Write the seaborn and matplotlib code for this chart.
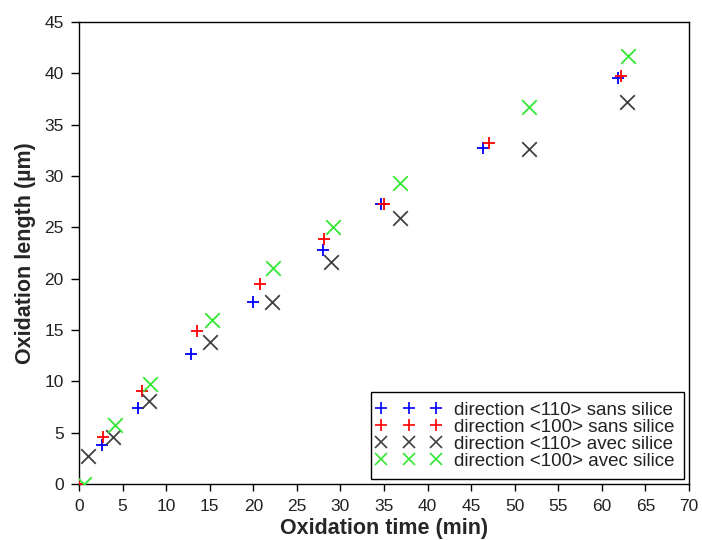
import pandas as pd
import seaborn as sns
import matplotlib
matplotlib.use("Agg")
import matplotlib.pyplot as plt
from matplotlib.lines import Line2D
from matplotlib.legend_handler import HandlerLine2D

# --- data ---
series_names = [
    "direction <110> sans silice",
    "direction <100> sans silice",
    "direction <110> avec silice",
    "direction <100> avec silice",
]

t_110_sans = [0.0, 2.6, 6.8, 12.9, 20.0, 28.0, 34.7, 46.4, 61.9]
l_110_sans = [0.0, 3.8, 7.4, 12.7, 17.7, 22.8, 27.3, 32.7, 39.5]

t_100_sans = [0.0, 2.8, 7.2, 13.5, 20.8, 28.1, 35.0, 47.1, 62.2]
l_100_sans = [0.0, 4.6, 9.1, 14.9, 19.5, 23.9, 27.3, 33.2, 39.7]

t_110_avec = [1.0, 3.9, 8.0, 15.0, 22.2, 28.9, 36.8, 51.6, 62.9]
l_110_avec = [2.7, 4.6, 8.1, 13.8, 17.7, 21.6, 25.9, 32.6, 37.2]

t_100_avec = [0.6, 4.1, 8.2, 15.3, 22.3, 29.1, 36.8, 51.6, 63.0]
l_100_avec = [0.0, 5.7, 9.7, 16.0, 21.0, 25.0, 29.3, 36.7, 41.7]

colors = ["#0000ff", "#ff0000", "#404040", "#33e833"]
markers = ["+", "+", "x", "x"]
sizes = [80, 80, 110, 110]


def main():
    frames = []
    for name, t, l in zip(series_names,
                          [t_110_sans, t_100_sans, t_110_avec, t_100_avec],
                          [l_110_sans, l_100_sans, l_110_avec, l_100_avec]):
        frames.append(pd.DataFrame({"time": t, "length": l, "series": name}))
    df = pd.concat(frames, ignore_index=True)

    sns.set_theme(style="ticks")
    plt.rcParams["font.family"] = ["Liberation Sans", "DejaVu Sans"]

    fig = plt.figure(figsize=(7.02, 5.4), dpi=100)
    ax = fig.add_axes([0.1125, 0.1037, 0.869, 0.8556])

    for name, c, m, s in zip(series_names, colors, markers, sizes):
        sns.scatterplot(data=df[df["series"] == name], x="time", y="length",
                        color=c, marker=m, s=s, linewidth=1.3, ax=ax,
                        legend=False, zorder=3)

    ax.set_xlim(0, 70)
    ax.set_ylim(0, 45)
    ax.set_xticks(range(0, 71, 5))
    ax.set_yticks(range(0, 46, 5))
    ax.tick_params(direction="out", width=1, labelsize=12.5, colors="black",
                   labelcolor="#222222", top=False, right=False)
    ax.tick_params(axis="x", length=5, pad=6)
    ax.tick_params(axis="y", length=6, pad=5)
    for sp in ax.spines.values():
        sp.set_color("black")
        sp.set_linewidth(1)
    ax.set_xlabel("Oxidation time (min)", fontsize=15.5, fontweight="bold", labelpad=3)
    ax.set_ylabel("Oxidation length (µm)", fontsize=15.5, fontweight="bold", labelpad=6)

    handles = [Line2D([], [], linestyle="", color=c, marker=m,
                      markersize=(8 if m == "+" else 9), markeredgewidth=1.2)
               for c, m in zip(colors, markers)]
    hmap = {h: HandlerLine2D(numpoints=3, marker_pad=0.05) for h in handles}
    leg = ax.legend(handles, series_names, loc="lower right", numpoints=3,
                    handler_map=hmap, fontsize=13.5, handlelength=3.0,
                    handletextpad=0.95, labelspacing=0.0, borderaxespad=0.25,
                    borderpad=0.5, fancybox=False, framealpha=1,
                    edgecolor="black")
    leg.get_frame().set_linewidth(1)
    for txt in leg.get_texts():
        txt.set_color("#222222")

    fig.savefig("out.png", dpi=100)


if __name__ == "__main__":
    main()
